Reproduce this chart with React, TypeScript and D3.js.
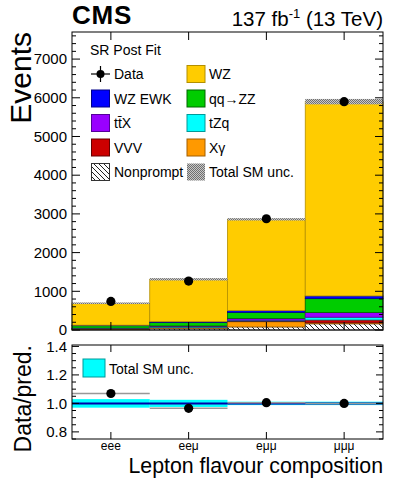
import React from "react";
import * as d3 from "d3";

const categories = ["eee", "eeμ", "eμμ", "μμμ"];
const nonprompt = [15, 45, 80, 160];
const xgamma = [10, 15, 135, 25];
const vvv = [7, 10, 20, 75];
const tzq = [8, 15, 20, 70];
const ttx = [10, 20, 45, 120];
const qqzz = [60, 90, 155, 360];
const wzewk = [15, 20, 45, 70];
const wz = [565, 1095, 2360, 5020];
const dataCounts = [738, 1265, 2875, 5900];
const predUnc = [20, 30, 30, 70];
const ratioUnc = [0.03, 0.025, 0.012, 0.012];
const yTicksMain = [0, 1000, 2000, 3000, 4000, 5000, 6000, 7000];
const yTicksRatio = [0.8, 1.0, 1.2, 1.4];

const layers = [
  { name: "Nonprompt", values: nonprompt, fill: "url(#hatch)", stroke: "#333" },
  { name: "Xγ", values: xgamma, fill: "#ff9900", stroke: "#a35f00" },
  { name: "VVV", values: vvv, fill: "#cc0000", stroke: "#660000" },
  { name: "tZq", values: tzq, fill: "#00ffff", stroke: "#009999" },
  { name: "tt̄X", values: ttx, fill: "#9900ff", stroke: "#550099" },
  { name: "qq→ZZ", values: qqzz, fill: "#00cc00", stroke: "#006600" },
  { name: "WZ EWK", values: wzewk, fill: "#0000ff", stroke: "#000088" },
  { name: "WZ", values: wz, fill: "#ffcc00", stroke: "#b38f00" },
];

const FONT = "'Liberation Sans', Arial, Helvetica, sans-serif";

export default function App() {
  const L = 72, R = 383;
  const mainTop = 32, mainBot = 330;
  const ratTop = 345, ratBot = 439;
  const x = d3.scaleLinear().domain([0, 4]).range([L, R]);
  const y = d3.scaleLinear().domain([0, 7700]).range([mainBot, mainTop]);
  const yr = d3.scaleLinear().domain([0.75, 1.41]).range([ratBot, ratTop]);

  const totals = categories.map((_, i) => layers.reduce((s, l) => s + l.values[i], 0));
  const ratios = dataCounts.map((d, i) => d / totals[i]);

  const stacked: { l: typeof layers[0]; i: number; y0: number; y1: number }[] = [];
  categories.forEach((_, i) => {
    let acc = 0;
    layers.forEach((l) => {
      stacked.push({ l, i, y0: acc, y1: acc + l.values[i] });
      acc += l.values[i];
    });
  });

  const minorMain = d3.range(0, 7701, 200).filter((v) => v % 1000 !== 0);
  const minorRatio = d3.range(0.75, 1.41, 0.05).map((v) => Math.round(v * 100) / 100).filter((v) => Math.round(v * 100) % 20 !== 0);

  const legend1 = [
    { label: "Data", type: "data" },
    { label: "WZ EWK", fill: "#0000ff", stroke: "#000088" },
    { label: "tt̄X", fill: "#9900ff", stroke: "#550099" },
    { label: "VVV", fill: "#cc0000", stroke: "#660000" },
    { label: "Nonprompt", fill: "url(#hatch)", stroke: "#333" },
  ];
  const legend2 = [
    { label: "WZ", fill: "#ffcc00", stroke: "#b38f00" },
    { label: "qq→ZZ", fill: "#00cc00", stroke: "#006600" },
    { label: "tZq", fill: "#00ffff", stroke: "#009999" },
    { label: "Xγ", fill: "#ff9900", stroke: "#a35f00" },
    { label: "Total SM unc.", fill: "url(#cross)", stroke: "none" },
  ];
  const rowY = (k: number) => 74 + k * 24.5;

  return (
    <svg width={399} height={483} style={{ position: "absolute", left: 0, top: 0 }} fontFamily={FONT}>
      <defs>
        <pattern id="hatch" patternUnits="userSpaceOnUse" width="5" height="5">
          <rect width="5" height="5" fill="#fff" />
          <path d="M0,0 L5,5 M-1,4 L1,6 M4,-1 L6,1" stroke="#222" strokeWidth="1" />
        </pattern>
        <pattern id="cross" patternUnits="userSpaceOnUse" width="2" height="2">
          <rect width="2" height="2" fill="#c8c8c8" />
          <rect width="1" height="1" fill="#707070" />
          <rect x="1" y="1" width="1" height="1" fill="#707070" />
        </pattern>
      </defs>
      <rect width={399} height={483} fill="#fff" />

      {/* Title */}
      <text x={L} y={23.5} fontSize={26} fontWeight="bold" letterSpacing={0.8}>CMS</text>
      <text x={R} y={26} fontSize={20.5} textAnchor="end">
        137 fb<tspan dy={-8} fontSize={13}>-1</tspan><tspan dy={8}> (13 TeV)</tspan>
      </text>

      {/* Stack */}
      {stacked.map((s, k) => (
        <rect key={k} x={x(s.i)} width={x(s.i + 1) - x(s.i)} y={y(s.y1)} height={Math.max(0, y(s.y0) - y(s.y1))}
          fill={s.l.fill} stroke={s.l.stroke} strokeWidth={0.8} />
      ))}
      {/* Uncertainty band */}
      {categories.map((_, i) => (
        <rect key={"u" + i} x={x(i)} width={x(i + 1) - x(i)} y={y(totals[i] + predUnc[i])}
          height={y(totals[i] - predUnc[i]) - y(totals[i] + predUnc[i])} fill="url(#cross)" />
      ))}
      {/* Data */}
      {categories.map((_, i) => {
        const e = Math.sqrt(dataCounts[i]);
        return (
          <g key={"d" + i}>
            <line x1={x(i + 0.5)} x2={x(i + 0.5)} y1={y(dataCounts[i] - e)} y2={y(dataCounts[i] + e)} stroke="#000" strokeWidth={1.5} />
            <circle cx={x(i + 0.5)} cy={y(dataCounts[i])} r={4.6} fill="#000" />
          </g>
        );
      })}

      {/* Main frame & ticks */}
      <rect x={L} y={mainTop} width={R - L} height={mainBot - mainTop} fill="none" stroke="#000" strokeWidth={1} />
      {yTicksMain.map((t) => (
        <g key={"ym" + t}>
          <line x1={L} x2={L + 8} y1={y(t)} y2={y(t)} stroke="#000" />
          <line x1={R} x2={R - 8} y1={y(t)} y2={y(t)} stroke="#000" />
          <text x={67} y={y(t) + 5.3} fontSize={15} textAnchor="end">{t}</text>
        </g>
      ))}
      {minorMain.map((t) => (
        <g key={"ymm" + t}>
          <line x1={L} x2={L + 4} y1={y(t)} y2={y(t)} stroke="#000" />
          <line x1={R} x2={R - 4} y1={y(t)} y2={y(t)} stroke="#000" />
        </g>
      ))}
      {categories.map((_, i) => (
        <g key={"xm" + i}>
          <line x1={x(i + 0.5)} x2={x(i + 0.5)} y1={mainBot} y2={mainBot - 8} stroke="#000" />
          <line x1={x(i + 0.5)} x2={x(i + 0.5)} y1={mainTop} y2={mainTop + 8} stroke="#000" />
        </g>
      ))}
      <text transform={`translate(31,${mainTop}) rotate(-90)`} fontSize={30} textAnchor="end">Events</text>

      {/* Legend */}
      <text x={90} y={55} fontSize={14}>SR Post Fit</text>
      {legend1.map((e, k) => (
        <g key={"l1" + k}>
          {e.type === "data" ? (
            <g>
              <line x1={91} x2={110} y1={rowY(k)} y2={rowY(k)} stroke="#000" strokeWidth={1.2} />
              <line x1={100.5} x2={100.5} y1={rowY(k) - 8} y2={rowY(k) + 8} stroke="#000" strokeWidth={1.2} />
              <circle cx={100.5} cy={rowY(k)} r={4} fill="#000" />
            </g>
          ) : (
            <rect x={91.5} y={rowY(k) - 8.5} width={18} height={17} fill={e.fill} stroke={e.stroke} strokeWidth={1} />
          )}
          <text x={114} y={rowY(k) + 5} fontSize={14}>{e.label}</text>
        </g>
      ))}
      {legend2.map((e, k) => (
        <g key={"l2" + k}>
          <rect x={187} y={rowY(k) - 8.5} width={18} height={17} fill={e.fill} stroke={e.stroke} strokeWidth={1} />
          <text x={209} y={rowY(k) + 5} fontSize={14}>{e.label}</text>
        </g>
      ))}

      {/* Ratio panel */}
      {categories.map((_, i) => (
        <rect key={"rb" + i} x={x(i)} width={x(i + 1) - x(i)} y={yr(1 + ratioUnc[i])}
          height={yr(1 - ratioUnc[i]) - yr(1 + ratioUnc[i])} fill="#00ffff" />
      ))}
      <line x1={L} x2={R} y1={yr(1)} y2={yr(1)} stroke="#0000aa" strokeWidth={2} />
      {categories.map((_, i) => (
        <g key={"rd" + i}>
          <line x1={x(i)} x2={x(i + 1)} y1={yr(ratios[i])} y2={yr(ratios[i])} stroke="#999" strokeWidth={1.5} />
          <circle cx={x(i + 0.5)} cy={yr(ratios[i])} r={4.6} fill="#000" />
        </g>
      ))}
      <rect x={L} y={ratTop} width={R - L} height={ratBot - ratTop} fill="none" stroke="#000" strokeWidth={1} />
      {yTicksRatio.map((t) => (
        <g key={"yr" + t}>
          <line x1={L} x2={L + 7} y1={yr(t)} y2={yr(t)} stroke="#000" />
          <line x1={R} x2={R - 7} y1={yr(t)} y2={yr(t)} stroke="#000" />
          <text x={67} y={yr(t) + 5.3} fontSize={15} textAnchor="end">{t.toFixed(1)}</text>
        </g>
      ))}
      {minorRatio.map((t) => (
        <g key={"yrm" + t}>
          <line x1={L} x2={L + 4} y1={yr(t)} y2={yr(t)} stroke="#000" />
          <line x1={R} x2={R - 4} y1={yr(t)} y2={yr(t)} stroke="#000" />
        </g>
      ))}
      {categories.map((c, i) => (
        <g key={"xr" + i}>
          <line x1={x(i + 0.5)} x2={x(i + 0.5)} y1={ratBot} y2={ratBot - 7} stroke="#000" />
          <line x1={x(i + 0.5)} x2={x(i + 0.5)} y1={ratTop} y2={ratTop + 7} stroke="#000" />
          <text x={x(i + 0.5)} y={450} fontSize={12} textAnchor="middle">{c}</text>
        </g>
      ))}
      <rect x={83} y={359} width={22} height={18} fill="#00ffff" stroke="#009999" strokeWidth={1} />
      <text x={109} y={374} fontSize={14}>Total SM unc.</text>
      <text transform={`translate(31,${ratTop}) rotate(-90)`} fontSize={23} textAnchor="end">Data/pred.</text>
      <text x={R} y={473} fontSize={21.3} textAnchor="end">Lepton flavour composition</text>
    </svg>
  );
}
